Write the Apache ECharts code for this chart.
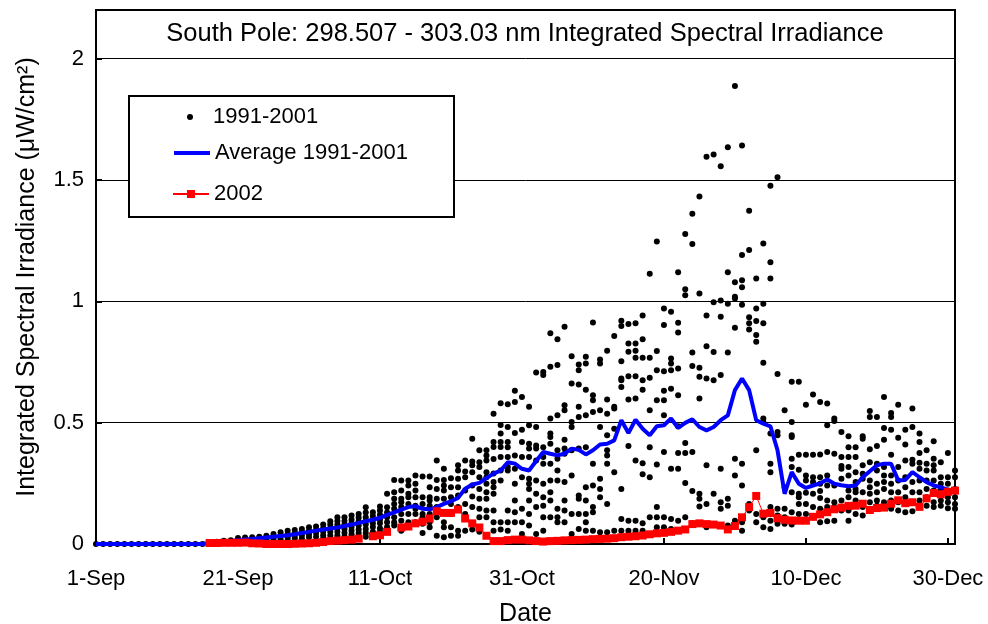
<!DOCTYPE html>
<html>
<head>
<meta charset="utf-8">
<script src="https://cdn.jsdelivr.net/npm/echarts@6/dist/echarts.min.js"></script>
<style>
html,body{margin:0;padding:0;background:#fff;}
#chart{width:988px;height:624px;}
</style>
</head>
<body>
<div id="chart"></div>
<script>
// x ticks every 20 days from 1-Sep (day 0)
const tickLabels = ['1-Sep','21-Sep','11-Oct','31-Oct','20-Nov','10-Dec','30-Dec'];

// 1991-2001 daily measurements, one list per day (day 0 = 1-Sep)
const points1991to2001 = [
  [0],[0],[0],[0],[0],[0],[0],[0],[0],[0],[0],[0],[0],[0],[0],[0],
  [0.003,0.006],
  [0.005,0.009],
  [0.006,0.01,0.013],
  [0.008,0.015],
  [0.025,0.014,0.005],
  [0.027,0.015,0.006],
  [0.028,0.014,0.006],
  [0.03,0.017,0.007],
  [0.034,0.02,0.008],
  [0.041,0.028,0.016,0.008],
  [0.048,0.035,0.02,0.01],
  [0.055,0.04,0.028,0.015],
  [0.058,0.045,0.035,0.024],
  [0.062,0.048,0.035,0.022],
  [0.069,0.055,0.04,0.028],
  [0.072,0.058,0.045,0.03],
  [0.08,0.065,0.05,0.035,0.022],
  [0.094,0.08,0.065,0.05,0.035],
  [0.11,0.095,0.08,0.065,0.05,0.035],
  [0.11,0.095,0.08,0.062,0.045,0.03],
  [0.117,0.1,0.085,0.07,0.055,0.04,0.03],
  [0.124,0.108,0.092,0.076,0.06,0.045,0.03],
  [0.151,0.13,0.11,0.095,0.08,0.062,0.045,0.03],
  [0.131,0.115,0.1,0.085,0.07,0.05,0.035],
  [0.154,0.138,0.12,0.1,0.085,0.065,0.05],
  [0.207,0.151,0.13,0.11,0.09,0.07,0.05],
  [0.264,0.213,0.186,0.165,0.145,0.11,0.09,0.076],
  [0.262,0.22,0.186,0.172,0.152,0.124,0.096,0.055],
  [0.262,0.241,0.207,0.193,0.165,0.124,0.09,0.076],
  [0.282,0.248,0.22,0.193,0.158,0.145,0.124,0.09],
  [0.278,0.193,0.165,0.124,0.11,0.083,0.045],
  [0.278,0.234,0.193,0.179,0.158,0.124,0.09,0.069],
  [0.344,0.264,0.227,0.186,0.152,0.11,0.034],
  [0.31,0.264,0.241,0.22,0.186,0.131,0.09,0.069,0.028],
  [0.271,0.234,0.193,0.165,0.124,0.069,0.034],
  [0.324,0.303,0.269,0.234,0.2,0.152,0.055,0.034],
  [0.344,0.299,0.275,0.22,0.165,0.124,0.055],
  [0.434,0.34,0.324,0.296,0.241,0.196,0.152,0.06],
  [0.386,0.337,0.317,0.275,0.227,0.186,0.145,0.11,0.05],
  [0.386,0.365,0.344,0.296,0.275,0.248,0.213,0.186,0.138,0.11],
  [0.537,0.42,0.4,0.35,0.29,0.255,0.234,0.207,0.138,0.09,0.055],
  [0.58,0.49,0.455,0.42,0.4,0.358,0.303,0.262,0.09,0.06],
  [0.576,0.482,0.42,0.399,0.358,0.317,0.303,0.138,0.09,0.055],
  [0.631,0.585,0.457,0.365,0.31,0.248,0.179,0.131,0.09],
  [0.606,0.471,0.42,0.358,0.275,0.145,0.09,0.041],
  [0.565,0.489,0.413,0.393,0.358,0.269,0.248,0.227,0.179,0.124,0.076],
  [0.707,0.482,0.406,0.393,0.344,0.262,0.207,0.152,0.041],
  [0.709,0.696,0.399,0.358,0.331,0.248,0.193,0.158,0.11,0.055],
  [0.868,0.73,0.517,0.455,0.441,0.413,0.331,0.262,0.213,0.179,0.11],
  [0.844,0.737,0.53,0.386,0.351,0.303,0.262,0.145,0.11,0.09],
  [0.895,0.572,0.551,0.43,0.393,0.372,0.255,0.179,0.138,0.09],
  [0.774,0.661,0.503,0.482,0.386,0.282,0.124,0.041],
  [0.74,0.716,0.657,0.565,0.523,0.393,0.2,0.186,0.124,0.062],
  [0.771,0.744,0.636,0.53,0.399,0.234,0.179,0.124,0.09,0.055],
  [0.913,0.613,0.592,0.544,0.331,0.241,0.152,0.131,0.055],
  [0.76,0.744,0.551,0.482,0.269,0.227,0.193,0.048],
  [0.796,0.595,0.537,0.448,0.386,0.365,0.331,0.165,0.048],
  [0.857,0.565,0.558,0.475,0.296,0.055],
  [0.92,0.898,0.753,0.682,0.675,0.647,0.227,0.103,0.055],
  [0.906,0.826,0.792,0.691,0.595,0.404,0.096,0.055],
  [0.909,0.826,0.796,0.767,0.691,0.599,0.344,0.096,0.055],
  [0.941,0.844,0.767,0.675,0.636,0.333,0.287,0.085,0.055],
  [1.113,0.767,0.685,0.551,0.399,0.275,0.11],
  [1.246,0.795,0.716,0.592,0.328,0.152,0.11,0.069],
  [0.97,0.902,0.712,0.631,0.592,0.53,0.379,0.11,0.069],
  [0.957,0.764,0.744,0.716,0.64,0.31,0.103,0.062],
  [1.12,0.912,0.871,0.723,0.613,0.485,0.375,0.31,0.096],
  [1.277,1.05,1.025,0.416,0.375,0.251,0.11],
  [1.361,1.236,0.789,0.733,0.379,0.218,0.085],
  [1.432,1.032,0.726,0.689,0.599,0.207,0.186,0.154],
  [1.595,0.941,0.815,0.682,0.324,0.165,0.069],
  [1.605,0.996,0.791,0.675,0.207],
  [1.556,1.003,0.936,0.696,0.31,0.172,0.145],
  [1.635,1.12,0.99,0.789,0.186,0.158,0.076],
  [1.887,1.078,1.019,1.011,0.891,0.351,0.282,0.096],
  [1.642,1.191,1.087,1.058,0.986,0.331,0.241,0.09,0.055],
  [1.373,1.211,0.934,0.909,0.884,0.165,0.138],
  [1.094,0.97,0.919,0.861,0.833,0.386,0.124,0.09],
  [1.238,0.99,0.909,0.747,0.517,0.503,0.11,0.069],
  [1.476,1.161,1.094,0.455,0.331,0.296,0.152,0.124,0.096,0.062],
  [1.511,0.7,0.461,0.448,0.145,0.117,0.083],
  [0.551,0.234,0.145,0.11,0.083],
  [0.668,0.503,0.448,0.441,0.351,0.317,0.213,0.131,0.08],
  [0.668,0.368,0.306,0.207,0.193,0.165,0.124],
  [0.574,0.368,0.282,0.262,0.211,0.165,0.124],
  [0.616,0.368,0.275,0.255,0.207,0.152,0.11],
  [0.585,0.369,0.275,0.248,0.218,0.189,0.145,0.09],
  [0.579,0.489,0.379,0.282,0.241,0.179,0.152,0.094],
  [0.517,0.507,0.372,0.241,0.172,0.152,0.096],
  [0.461,0.358,0.321,0.31,0.269,0.179,0.138],
  [0.444,0.399,0.358,0.317,0.282,0.22,0.193,0.138,0.096],
  [0.399,0.358,0.296,0.255,0.227,0.213,0.179,0.124],
  [0.444,0.434,0.324,0.289,0.269,0.213,0.152,0.117],
  [0.548,0.523,0.39,0.337,0.262,0.234,0.207,0.172,0.14],
  [0.523,0.404,0.331,0.303,0.248,0.213,0.179,0.158],
  [0.606,0.478,0.43,0.317,0.282,0.255,0.227,0.172],
  [0.54,0.523,0.471,0.368,0.282,0.248,0.213,0.179,0.145],
  [0.574,0.438,0.317,0.262,0.213,0.172,0.138],
  [0.471,0.41,0.344,0.275,0.234,0.193,0.165,0.131],
  [0.558,0.482,0.347,0.331,0.255,0.213,0.172,0.135],
  [0.455,0.42,0.375,0.335,0.31,0.262,0.213,0.179],
  [0.386,0.331,0.303,0.262,0.227,0.193,0.158],
  [0.423,0.351,0.324,0.303,0.262,0.22,0.172,0.152],
  [0.337,0.275,0.248,0.22,0.2,0.179,0.158],
  [0.375,0.275,0.248,0.22,0.193,0.172,0.147],
  [0.303,0.275,0.227,0.193,0.165,0.145]
];

// Average 1991-2001, day 0..120
const average1991to2001 = [
  0,0,0,0,0,0,0,0,0,0,0,0,0,0,0,0,
  0.004,0.006,0.009,0.012,0.016,0.019,0.021,0.024,0.027,0.03,
  0.033,0.036,0.04,0.045,0.05,0.055,0.06,0.064,0.068,0.074,
  0.08,0.087,0.094,0.1,0.108,0.12,0.13,0.142,0.152,0.156,
  0.145,0.143,0.152,0.165,0.176,0.19,0.228,0.245,0.252,0.272,
  0.29,0.303,0.337,0.331,0.31,0.303,0.342,0.379,0.372,0.365,
  0.372,0.393,0.388,0.369,0.386,0.41,0.413,0.427,0.51,0.457,
  0.512,0.475,0.448,0.485,0.489,0.517,0.478,0.499,0.514,0.482,
  0.468,0.482,0.51,0.53,0.634,0.682,0.634,0.51,0.496,0.485,
  0.386,0.207,0.296,0.248,0.231,0.241,0.25,0.266,0.248,0.242,
  0.238,0.241,0.275,0.3,0.324,0.331,0.331,0.262,0.264,0.296,
  0.275,0.255,0.241,0.234,0.223
];

// 2002, day 0..121 (null = no measurement)
const values2002 = [
  null,null,null,null,null,null,null,null,null,null,null,null,null,null,null,null,
  0.004,0.004,0.005,0.005,0.005,0.006,0.003,0.002,0.0,0.0,
  0.0,0.0,0.001,0.002,0.003,0.005,0.008,0.012,0.014,0.016,
  0.018,0.022,null,0.032,0.036,0.05,null,0.068,0.072,0.085,
  0.092,0.105,0.135,0.128,0.128,0.142,0.105,0.085,0.068,0.034,
  0.012,0.012,0.016,0.018,0.018,0.015,0.012,0.01,0.012,0.013,
  0.015,0.016,0.017,0.018,0.02,0.021,0.022,0.024,0.028,0.03,
  0.032,0.035,0.04,0.044,0.046,0.05,0.055,0.06,0.082,0.085,
  0.082,0.08,0.076,0.06,0.074,0.11,0.152,0.198,0.125,0.128,
  0.106,0.1,0.097,0.096,0.096,0.112,0.122,0.131,0.143,0.15,
  0.157,0.158,0.166,0.14,0.148,0.15,0.166,0.18,0.168,0.172,
  0.153,0.188,0.21,0.205,0.215,0.22
];

const scatterData = [];
points1991to2001.forEach((vals, d) => vals.forEach(v => scatterData.push([d, v])));
const avgData = average1991to2001.map((v, d) => [d, v]);
const data2002 = values2002.map((v, d) => [d, v]);

const FONT = '"Liberation Sans", Arial, sans-serif';
const legendText = {fontFamily: FONT, fontSize: 22, color: '#000', lineHeight: 24};
const chart = echarts.init(document.getElementById('chart'), null, {renderer: 'canvas'});
chart.setOption({
  animation: false,
  backgroundColor: '#fff',
  textStyle: {fontFamily: FONT, color: '#000'},
  title: {
    text: 'South Pole: 298.507 - 303.03 nm Integrated Spectral Irradiance',
    left: 525, top: 21, padding: 0, textAlign: 'center',
    textStyle: {fontFamily: FONT, fontSize: 25.5, fontWeight: 'normal', color: '#000'}
  },
  grid: {left: 96, right: 33, top: 10, bottom: 80, show: true, borderColor: '#000', borderWidth: 2,
    backgroundColor: 'transparent', containLabel: false, outerBoundsMode: 'none'},
  graphic: [{
    type: 'rect', left: 128, top: 95, z: 50,
    shape: {width: 325, height: 121},
    style: {fill: '#fff', stroke: '#000', lineWidth: 2}
  }],
  legend: [
    {data: ['1991-2001'], left: 187, top: 105, padding: 0, itemWidth: 36, itemHeight: 6, z: 60,
     textStyle: legendText, selectedMode: false},
    {data: ['Average 1991-2001'], left: 172, top: 141, padding: 0, itemWidth: 36, itemHeight: 10, z: 60,
     itemStyle: {color: 'transparent', borderWidth: 0},
     lineStyle: {color: '#0000ff', width: 4},
     textStyle: legendText, selectedMode: false},
    {data: ['2002'], left: 172, top: 182, padding: 0, itemWidth: 36, itemHeight: 10, z: 60,
     textStyle: legendText, selectedMode: false}
  ],
  xAxis: {
    type: 'value', min: 0, max: 121, interval: 20,
    name: 'Date', nameLocation: 'middle', nameGap: 58,
    nameTextStyle: {fontFamily: FONT, fontSize: 25, color: '#000'},
    axisLine: {lineStyle: {color: '#000', width: 2}},
    axisTick: {inside: true, length: 6, lineStyle: {color: '#000', width: 2}},
    axisLabel: {
      fontFamily: FONT, fontSize: 22, color: '#000', margin: 24, showMaxLabel: false,
      formatter: v => (v % 20 === 0 ? tickLabels[v / 20] : '')
    },
    splitLine: {show: false}
  },
  yAxis: {
    type: 'value', min: 0, max: 2.2, interval: 0.5,
    name: 'Integrated Spectral Irradiance (μW/cm²)', nameLocation: 'middle', nameGap: 56,
    nameTextStyle: {fontFamily: FONT, fontSize: 25, color: '#000'},
    axisLine: {show: true, lineStyle: {color: '#000', width: 2}},
    axisTick: {show: true, inside: true, length: 6, lineStyle: {color: '#000', width: 2}},
    axisLabel: {fontFamily: FONT, fontSize: 22, color: '#000', margin: 12, showMaxLabel: false,
      formatter: v => String(v)},
    splitLine: {show: true, lineStyle: {color: '#000', width: 1}}
  },
  series: [
    {name: '1991-2001', type: 'scatter', data: scatterData, symbol: 'circle', symbolSize: 6,
     itemStyle: {color: '#000', opacity: 1}, z: 2},
    {name: 'Average 1991-2001', type: 'line', data: avgData, showSymbol: false, symbol: 'none',
     lineStyle: {color: '#0000ff', width: 4}, itemStyle: {color: '#0000ff'}, z: 3},
    {name: '2002', type: 'line', data: data2002, symbol: 'rect', symbolSize: 8, showSymbol: true,
     connectNulls: false, lineStyle: {color: '#ff0000', width: 1}, itemStyle: {color: '#ff0000'}, z: 4}
  ]
});
</script>
</body>
</html>
